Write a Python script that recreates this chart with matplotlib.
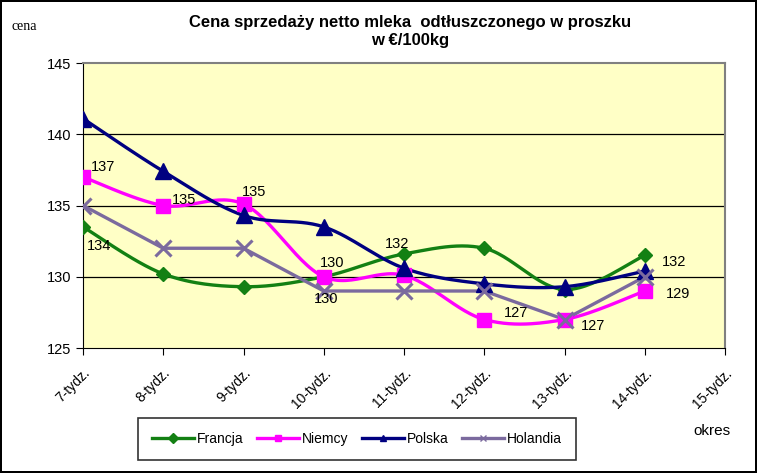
import numpy as np
import matplotlib
matplotlib.use("Agg")
import matplotlib.pyplot as plt

weeks = ["7-tydz.", "8-tydz.", "9-tydz.", "10-tydz.", "11-tydz.",
         "12-tydz.", "13-tydz.", "14-tydz.", "15-tydz."]
francja = [133.5, 130.2, 129.3, 130.0, 131.6, 132.0, 129.1, 131.5]
niemcy = [137.0, 135.0, 135.1, 130.0, 130.1, 127.0, 127.0, 129.0]
polska = [141.1, 137.4, 134.3, 133.5, 130.6, 129.5, 129.3, 130.4]
holandia = [135.0, 132.0, 132.0, 129.0, 129.0, 129.0, 127.0, 130.0]

# data labels: (series, index, text, dx, dy) offsets in points
labels = [
    (niemcy, 0, "137", 6, 7), (niemcy, 1, "135", 6, 4), (niemcy, 2, "135", -1, 9),
    (niemcy, 3, "130", -3, 10), (holandia, 3, "130", -7, -6),
    (francja, 0, "134", 3, -14), (francja, 4, "132", -14, 7),
    (niemcy, 5, "127", 14, 5), (niemcy, 6, "127", 12, -5),
    (francja, 7, "132", 12, -5), (niemcy, 7, "129", 15, -2),
]

plt.rcParams["font.family"] = ["Liberation Sans", "DejaVu Sans"]


def smooth(y, n=30):
    # catmull-rom style smoothing, like the spreadsheet "smoothed line"
    y = np.asarray(y, float)
    x = np.arange(len(y), dtype=float)
    p = np.vstack([x, y]).T
    p = np.vstack([p[0], p, p[-1]])
    out = []
    for i in range(1, len(p) - 2):
        p0, p1, p2, p3 = p[i - 1], p[i], p[i + 1], p[i + 2]
        t = np.linspace(0, 1, n)[:, None]
        c1 = p1 + (p2 - p0) / 6
        c2 = p2 - (p3 - p1) / 6
        seg = ((1 - t) ** 3) * p1 + 3 * ((1 - t) ** 2) * t * c1 + 3 * (1 - t) * t ** 2 * c2 + t ** 3 * p2
        out.append(seg)
    out = np.vstack(out)
    return out[:, 0], out[:, 1]


fig = plt.figure(figsize=(7.57, 4.73), dpi=100)
fig.patch.set_edgecolor("black")
fig.patch.set_linewidth(1.5)
ax = fig.add_axes([83 / 757, 1 - 348 / 473, (725 - 83) / 757, (348 - 63) / 473])
ax.set_facecolor("#FFFFC6")

series = [
    ("Francja", francja, "#138013", "D", 7, True),
    ("Niemcy", niemcy, "#FF00FF", "s", 10.5, True),
    ("Polska", polska, "#000080", "^", 11, True),
    ("Holandia", holandia, "#7B6A9E", "x", 11, False),
]
x = np.arange(len(francja))
handles = []
for name, vals, col, mk, ms, sm in series:
    if sm:
        xs, ys = smooth(vals)
    else:
        xs, ys = x, vals
    ax.plot(xs, ys, color=col, lw=2.4, zorder=3)
    ax.plot(x, vals, linestyle="none", marker=mk, ms=ms, color=col,
            mew=2.2 if mk == "x" else 1, zorder=4)
    h, = ax.plot([], [], color=col, lw=2.4, marker=mk, ms=5, mew=1)
    handles.append((h, name))

for vals, i, txt, dx, dy in labels:
    ax.annotate(txt, (x[i], vals[i]), xytext=(dx, dy), textcoords="offset points",
                fontsize=10.5, ha="left", va="center", zorder=5)

ax.set_xlim(0, len(weeks) - 1)
ax.set_ylim(125, 145)
ax.set_yticks([125, 130, 135, 140, 145])
ax.set_xticks(range(len(weeks)))
ax.set_xticklabels(weeks, rotation=45, ha="right", va="top",
                   rotation_mode="anchor", fontsize=10)
ax.tick_params(axis="y", labelsize=10.5, direction="out", length=5)
ax.tick_params(axis="x", direction="out", length=5, pad=8)
for yv in [130, 135, 140]:
    ax.axhline(yv, color="black", lw=0.9, zorder=1)
for s in ["top", "right"]:
    ax.spines[s].set_color("#808080")
    ax.spines[s].set_linewidth(1.5)

fig.text(410 / 757, 1 - 22 / 473, "Cena sprzedaży netto mleka  odtłuszczonego w proszku",
         ha="center", va="center", fontsize=12, fontweight="bold")
fig.text(410 / 757, 1 - 41 / 473, "w €/100kg", ha="center", va="center",
         fontsize=12, fontweight="bold")
fig.text(12 / 757, 1 - 27 / 473, "cena", ha="left", va="center", fontsize=10,
         family=["Liberation Serif", "DejaVu Serif"])
fig.text(712 / 757, 1 - 431 / 473, "okres", ha="center", va="center", fontsize=11)

leg = fig.legend([h for h, _ in handles], [n for _, n in handles],
                 loc="center", bbox_to_anchor=(357 / 757, 1 - 439 / 473),
                 ncol=4, fontsize=10, frameon=True, fancybox=False,
                 edgecolor="black", handlelength=3, columnspacing=1.0,
                 handletextpad=0.2, borderpad=1.0)
leg.get_frame().set_linewidth(1.2)

fig.savefig("out.png", dpi=100, edgecolor=fig.get_edgecolor())
